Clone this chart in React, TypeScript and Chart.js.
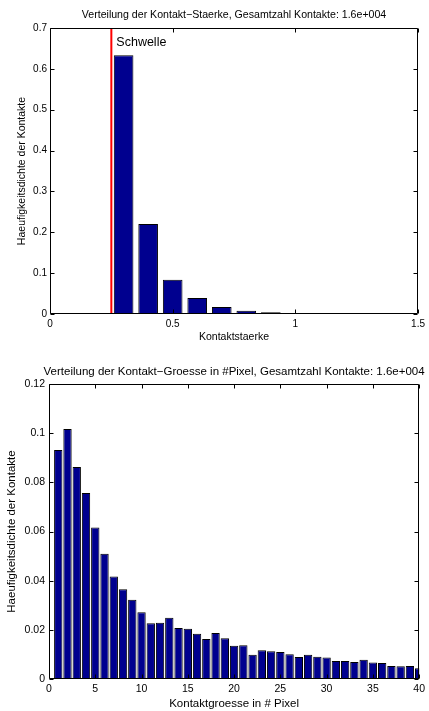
import React, { useEffect, useRef } from "react";
import { Chart, registerables } from "chart.js";

Chart.register(...registerables);

// ---------- Data: top chart (contact strength) ----------
const strengthCenters = [0.3, 0.4, 0.5, 0.6, 0.7, 0.8, 0.9, 1.0, 1.1, 1.2, 1.3, 1.4];
const strengthDensity = [0.633, 0.22, 0.084, 0.039, 0.017, 0.008, 0.004, 0.002, 0.0012, 0.0008, 0.0005, 0.0003];
const threshold = 0.25;
const thresholdLabel = "Schwelle";
const strengthXTicks = [0, 0.5, 1, 1.5];
const strengthXLabels = ["0", "0.5", "1", "1.5"];
const strengthYTicks = [0, 0.1, 0.2, 0.3, 0.4, 0.5, 0.6, 0.7];
const strengthYLabels = ["0", "0.1", "0.2", "0.3", "0.4", "0.5", "0.6", "0.7"];
const strengthTitle = "Verteilung der Kontakt\u2212Staerke, Gesamtzahl Kontakte: 1.6e+004";
const strengthXTitle = "Kontaktstaerke";

// ---------- Data: bottom chart (contact size) ----------
const sizeCenters = [1, 2, 3, 4, 5, 6, 7, 8, 9, 10, 11, 12, 13, 14, 15, 16, 17, 18, 19, 20, 21, 22, 23, 24, 25, 26, 27, 28, 29, 30, 31, 32, 33, 34, 35, 36, 37, 38, 39, 40];
const sizeDensity = [
  0.0932, 0.1017, 0.0862, 0.0757, 0.0616, 0.051, 0.0417, 0.0365, 0.0322, 0.0272,
  0.0227, 0.0229, 0.0249, 0.0207, 0.0204, 0.0184, 0.0163, 0.0187, 0.0166, 0.0135,
  0.0137, 0.0099, 0.0117, 0.0113, 0.011, 0.0101, 0.009, 0.0099, 0.0091, 0.0087,
  0.0073, 0.0073, 0.0069, 0.0078, 0.0067, 0.0065, 0.0053, 0.0052, 0.0053, 0.0044,
];
const sizeXTicks = [0, 5, 10, 15, 20, 25, 30, 35, 40];
const sizeXLabels = ["0", "5", "10", "15", "20", "25", "30", "35", "40"];
const sizeYTicks = [0, 0.02, 0.04, 0.06, 0.08, 0.1, 0.12];
const sizeYLabels = ["0", "0.02", "0.04", "0.06", "0.08", "0.1", "0.12"];
const sizeTitle = "Verteilung der Kontakt\u2212Groesse in #Pixel, Gesamtzahl Kontakte: 1.6e+004";
const sizeXTitle = "Kontaktgroesse in # Pixel";

const yTitle = "Haeufigkeitsdichte der Kontakte";

const FONT = "'Liberation Sans', Arial, Helvetica, sans-serif";
const BAR_FILL = "rgb(0,0,143)";

const framePlugin = {
  id: "matFrame",
  afterDatasetsDraw(chart: any) {
    const { ctx, chartArea } = chart;
    const { left, right, top, bottom } = chartArea;
    const xs = chart.scales.x;
    const ys = chart.scales.y;
    const L = Math.round(left) + 0.5;
    const R = Math.round(right) - 0.5;
    const T = Math.round(top) + 0.5;
    const B = Math.round(bottom) - 0.5;
    const tl = 4;
    ctx.save();
    ctx.strokeStyle = "#000";
    ctx.lineWidth = 1;
    ctx.beginPath();
    ctx.rect(L, T, R - L, B - T);
    for (const t of xs.ticks) {
      const px = Math.round(xs.getPixelForValue(t.value)) + 0.5;
      ctx.moveTo(px, B);
      ctx.lineTo(px, B - tl);
      ctx.moveTo(px, T);
      ctx.lineTo(px, T + tl);
    }
    for (const t of ys.ticks) {
      const py = Math.round(ys.getPixelForValue(t.value)) + 0.5;
      ctx.moveTo(L, py);
      ctx.lineTo(L + tl, py);
      ctx.moveTo(R, py);
      ctx.lineTo(R - tl, py);
    }
    ctx.stroke();
    ctx.restore();
  },
};

const titlePlugin = {
  id: "matTitle",
  afterDraw(chart: any, _args: any, opts: any) {
    if (!opts || !opts.text) return;
    const { ctx, chartArea } = chart;
    ctx.save();
    ctx.fillStyle = "#000";
    ctx.font = `${opts.size}px ${FONT}`;
    ctx.textAlign = "center";
    ctx.textBaseline = "middle";
    ctx.fillText(opts.text, (chartArea.left + chartArea.right) / 2, opts.y);
    ctx.restore();
  },
};

const thresholdTextPlugin = {
  id: "thresholdText",
  afterDraw(chart: any, _args: any, opts: any) {
    if (!opts || !opts.text) return;
    const { ctx, chartArea } = chart;
    const px = chart.scales.x.getPixelForValue(opts.value);
    ctx.save();
    ctx.fillStyle = "#000";
    ctx.font = `${opts.size}px ${FONT}`;
    ctx.textAlign = "left";
    ctx.textBaseline = "middle";
    ctx.fillText(opts.text, px + 5, chartArea.top + 15);
    ctx.restore();
  },
};

type Spec = {
  centers: number[];
  values: number[];
  xMin: number;
  xMax: number;
  yMin: number;
  yMax: number;
  xTicks: number[];
  xLabels: string[];
  yTicks: number[];
  yLabels: string[];
  title: string;
  xTitle: string;
  barPct: number;
  yAxisWidth: number;
  xAxisHeight: number;
  padTop: number;
  padRight: number;
  titleY: number;
  titleSize: number;
  tickSize: number;
  labelSize: number;
  yTitlePad: number;
  xTitlePad: number;
  yTickPad: number;
  xTickPad: number;
  withThreshold: boolean;
};

function buildConfig(s: Spec): any {
  const datasets: any[] = [
    {
      type: "bar",
      data: s.centers.map((c, i) => ({ x: c, y: s.values[i] })),
      backgroundColor: BAR_FILL,
      borderColor: "#000",
      borderWidth: 1,
      borderSkipped: false,
      barPercentage: s.barPct,
      categoryPercentage: 1,
      clip: 0,
      order: 2,
    },
  ];
  if (s.withThreshold) {
    datasets.push({
      type: "line",
      data: [
        { x: threshold, y: s.yMin },
        { x: threshold, y: s.yMax },
      ],
      borderColor: "#ff0000",
      borderWidth: 2,
      pointRadius: 0,
      fill: false,
      order: 1,
    });
  }
  return {
    type: "bar",
    data: { datasets },
    options: {
      animation: false,
      responsive: false,
      maintainAspectRatio: false,
      devicePixelRatio: 1,
      layout: { padding: { top: s.padTop, right: s.padRight, left: 0, bottom: 0 } },
      plugins: {
        legend: { display: false },
        tooltip: { enabled: false },
        title: { display: false },
        matTitle: { text: s.title, y: s.titleY, size: s.titleSize },
        thresholdText: s.withThreshold
          ? { text: thresholdLabel, value: threshold, size: 12.5 }
          : { text: "" },
      },
      scales: {
        x: {
          type: "linear",
          min: s.xMin,
          max: s.xMax,
          offset: false,
          grid: { display: false, drawTicks: false, offset: false },
          border: { display: false },
          afterBuildTicks: (sc: any) => {
            sc.ticks = s.xTicks.map((v) => ({ value: v }));
          },
          afterFit: (sc: any) => {
            sc.height = s.xAxisHeight;
          },
          ticks: {
            autoSkip: false,
            maxRotation: 0,
            padding: s.xTickPad,
            color: "#000",
            font: { family: FONT, size: s.tickSize },
            callback: (_v: any, i: number) => s.xLabels[i],
          },
          title: {
            display: true,
            text: s.xTitle,
            color: "#000",
            font: { family: FONT, size: s.labelSize },
            padding: { top: 0, bottom: s.xTitlePad },
          },
        },
        y: {
          type: "linear",
          min: s.yMin,
          max: s.yMax,
          grid: { display: false, drawTicks: false },
          border: { display: false },
          afterBuildTicks: (sc: any) => {
            sc.ticks = s.yTicks.map((v) => ({ value: v }));
          },
          afterFit: (sc: any) => {
            sc.width = s.yAxisWidth;
          },
          ticks: {
            autoSkip: false,
            padding: s.yTickPad,
            color: "#000",
            font: { family: FONT, size: s.tickSize },
            callback: (_v: any, i: number) => s.yLabels[i],
          },
          title: {
            display: true,
            text: yTitle,
            color: "#000",
            font: { family: FONT, size: s.labelSize },
            padding: { top: s.yTitlePad, bottom: 0 },
          },
        },
      },
    },
    plugins: [framePlugin, titlePlugin, thresholdTextPlugin],
  };
}

function ChartCanvas({ spec, width, height, top }: { spec: Spec; width: number; height: number; top: number }) {
  const ref = useRef<HTMLCanvasElement | null>(null);
  useEffect(() => {
    if (!ref.current) return;
    const chart = new Chart(ref.current, buildConfig(spec));
    return () => chart.destroy();
  }, []);
  return (
    <canvas
      ref={ref}
      width={width}
      height={height}
      style={{ position: "absolute", left: 0, top, width, height, display: "block" }}
    />
  );
}

const topSpec: Spec = {
  centers: strengthCenters,
  values: strengthDensity,
  xMin: 0,
  xMax: 1.5,
  yMin: 0,
  yMax: 0.7,
  xTicks: strengthXTicks,
  xLabels: strengthXLabels,
  yTicks: strengthYTicks,
  yLabels: strengthYLabels,
  title: strengthTitle,
  xTitle: strengthXTitle,
  barPct: 0.8,
  yAxisWidth: 50,
  xAxisHeight: 36,
  padTop: 28,
  padRight: 9,
  titleY: 15,
  titleSize: 10.6,
  tickSize: 10,
  labelSize: 10.5,
  yTitlePad: 15.7,
  xTitlePad: 7,
  yTickPad: 3,
  xTickPad: 4,
  withThreshold: true,
};

const bottomSpec: Spec = {
  centers: sizeCenters,
  values: sizeDensity,
  xMin: 0,
  xMax: 40,
  yMin: 0,
  yMax: 0.12,
  xTicks: sizeXTicks,
  xLabels: sizeXLabels,
  yTicks: sizeYTicks,
  yLabels: sizeYLabels,
  title: sizeTitle,
  xTitle: sizeXTitle,
  barPct: 0.9,
  yAxisWidth: 49,
  xAxisHeight: 32,
  padTop: 34,
  padRight: 8,
  titleY: 21.7,
  titleSize: 11.5,
  tickSize: 10.5,
  labelSize: 11.5,
  yTitlePad: 5,
  xTitlePad: 0.5,
  yTickPad: 4,
  xTickPad: 4,
  withThreshold: false,
};

export default function App() {
  return (
    <div style={{ position: "absolute", left: 0, top: 0, width: 429, height: 711, background: "#fff" }}>
      <ChartCanvas spec={topSpec} width={429} height={350} top={0} />
      <ChartCanvas spec={bottomSpec} width={429} height={361} top={350} />
    </div>
  );
}
